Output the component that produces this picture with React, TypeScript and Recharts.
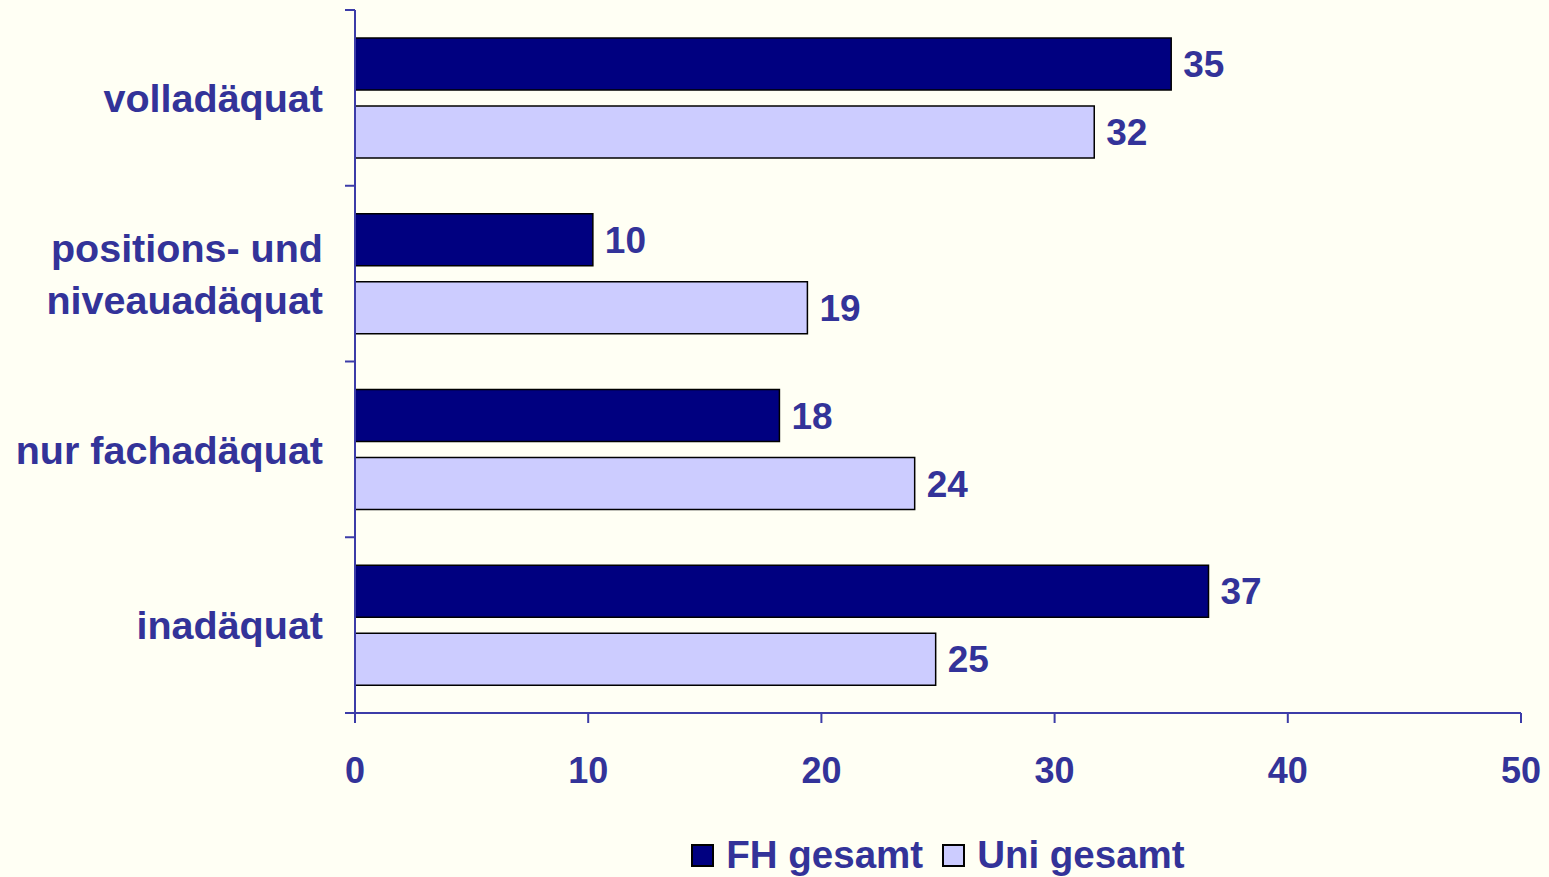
import React from "react";
import { BarChart, Bar, XAxis, YAxis, LabelList, Legend } from "recharts";

const categories = [
  "volladäquat",
  "positions- und\nniveauadäquat",
  "nur fachadäquat",
  "inadäquat",
];
const fhGesamt = [35.0, 10.2, 18.2, 36.6];
const uniGesamt = [31.7, 19.4, 24.0, 24.9];
const xTicks = [0, 10, 20, 30, 40, 50];
const seriesNames = ["FH gesamt", "Uni gesamt"];

const data = categories.map((name, i) => ({
  name,
  fh: fhGesamt[i],
  uni: uniGesamt[i],
}));

const W = 1549;
const H = 877;
const TOP = 10;
const RIGHT = 28;
const AXIS_W = 355;
const XAXIS_H = 122;
const LEGEND_H = 42;
const PLOT_H = H - TOP - XAXIS_H - LEGEND_H;
const BAND = PLOT_H / categories.length;

const BG = "#FFFFF4";
const TEXT = "#333399";
const AXIS = "#3c3ca8";
const FONT = "'Liberation Sans', Arial, sans-serif";
const FH_COLOR = "#000080";
const UNI_COLOR = "#CCCCFF";

function CategoryTick(props: any) {
  const { y, payload, index } = props;
  const lines = String(payload.value).split("\n");
  const fs = 39.5;
  const lh = 52;
  const first = y + fs * 0.36 - ((lines.length - 1) * lh) / 2;
  const tx = AXIS_W - 32;
  return (
    <g>
      <line x1={AXIS_W - 10} x2={AXIS_W} y1={y - BAND / 2} y2={y - BAND / 2} stroke={AXIS} strokeWidth={2} />
      {index === categories.length - 1 && (
        <line x1={AXIS_W - 10} x2={AXIS_W} y1={y + BAND / 2} y2={y + BAND / 2} stroke={AXIS} strokeWidth={2} />
      )}
      {lines.map((l, i) => (
        <text
          key={i}
          x={tx}
          y={first + i * lh}
          textAnchor="end"
          fill={TEXT}
          fontSize={fs}
          fontWeight="bold"
          fontFamily={FONT}
        >
          {l}
        </text>
      ))}
    </g>
  );
}

function LegendContent() {
  const colors = [FH_COLOR, UNI_COLOR];
  return (
    <div
      style={{
        display: "flex",
        justifyContent: "center",
        alignItems: "center",
        height: LEGEND_H,
        fontFamily: FONT,
        fontWeight: "bold",
        fontSize: 38.5,
        color: TEXT,
      }}
    >
      {seriesNames.map((n, i) => (
        <div key={n} style={{ display: "flex", alignItems: "center", marginLeft: i ? 19 : 0 }}>
          <span
            style={{
              width: 19,
              height: 19,
              background: colors[i],
              border: "2px solid #000",
              marginRight: 12,
              display: "inline-block",
            }}
          />
          <span>{n}</span>
        </div>
      ))}
    </div>
  );
}

export default function App() {
  return (
    <div style={{ position: "fixed", left: 0, top: 0, width: W, height: H, background: BG }}>
      <BarChart
        width={W}
        height={H}
        data={data}
        layout="vertical"
        margin={{ top: TOP, right: RIGHT, left: 0, bottom: 0 }}
        barSize={52}
        barGap={16}
      >
        <XAxis
          type="number"
          domain={[0, 50]}
          ticks={xTicks}
          height={XAXIS_H}
          tickSize={10}
          tickMargin={34}
          axisLine={{ stroke: AXIS, strokeWidth: 2 }}
          tickLine={{ stroke: AXIS, strokeWidth: 2 }}
          tick={{ fill: TEXT, fontSize: 36, fontWeight: "bold", fontFamily: FONT }}
        />
        <YAxis
          type="category"
          dataKey="name"
          width={AXIS_W}
          interval={0}
          tickLine={false}
          tickSize={0}
          axisLine={{ stroke: AXIS, strokeWidth: 2 }}
          tick={<CategoryTick />}
        />
        <Legend
          verticalAlign="bottom"
          content={<LegendContent />}
          wrapperStyle={{ left: AXIS_W, width: W - AXIS_W - RIGHT, bottom: 1, height: LEGEND_H }}
        />
        <Bar dataKey="fh" name={seriesNames[0]} fill={FH_COLOR} stroke="#000" strokeWidth={1.5} isAnimationActive={false}>
          <LabelList
            dataKey="fh"
            position="right"
            offset={12}
            formatter={(v: any) => Math.round(Number(v))}
            fill={TEXT}
            fontSize={37}
            fontWeight="bold"
            fontFamily={FONT}
          />
        </Bar>
        <Bar dataKey="uni" name={seriesNames[1]} fill={UNI_COLOR} stroke="#000" strokeWidth={1.5} isAnimationActive={false}>
          <LabelList
            dataKey="uni"
            position="right"
            offset={12}
            formatter={(v: any) => Math.round(Number(v))}
            fill={TEXT}
            fontSize={37}
            fontWeight="bold"
            fontFamily={FONT}
          />
        </Bar>
      </BarChart>
    </div>
  );
}
